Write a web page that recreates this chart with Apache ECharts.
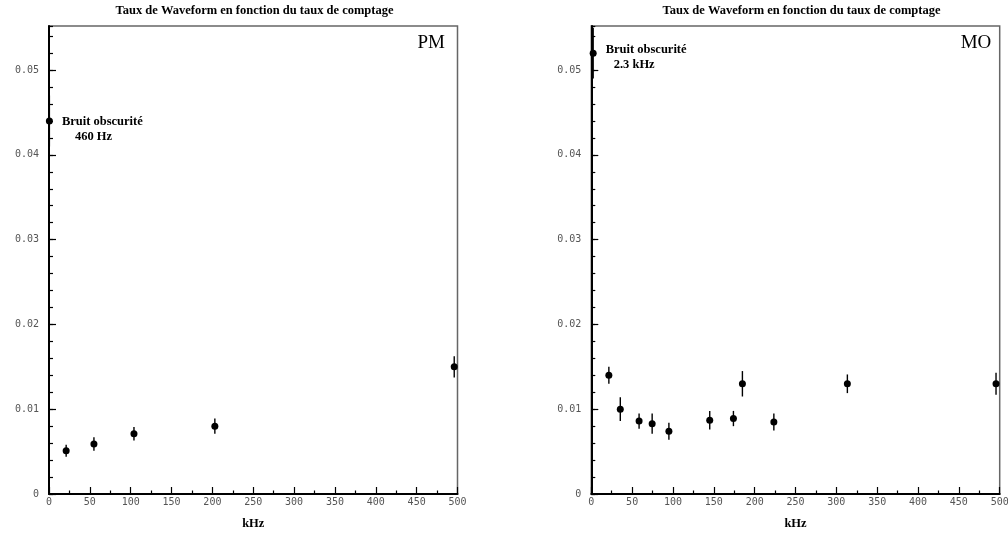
<!DOCTYPE html>
<html><head><meta charset="utf-8">
<script src="https://cdn.jsdelivr.net/npm/echarts@6.0.0/dist/echarts.min.js"></script>
<style>html,body{margin:0;padding:0;background:#fff}#c{width:1008px;height:535px}</style>
</head><body><div id="c"></div>
<script>
// ---- data ----
const titleText = 'Taux de Waveform en fonction du taux de comptage';
const xName = 'kHz';
const panelNames = ['PM', 'MO'];
const xTicks = [0, 50, 100, 150, 200, 250, 300, 350, 400, 450, 500];
const yTicks = [0, 0.01, 0.02, 0.03, 0.04, 0.05];
const yMinorStep = 0.002;
const yMax = 0.0552;

const pmX   = [0.46, 21, 55, 104, 203, 496];
const pmY   = [0.044, 0.0051, 0.0059, 0.0071, 0.0080, 0.0150];
const pmErr = [0.003, 0.0007, 0.0008, 0.0008, 0.0009, 0.00125];
const pmNote = ['Bruit obscurité', '460 Hz'];

const moX   = [2.3, 21.5, 35.5, 58.5, 74.5, 95, 145, 174, 185, 223.5, 313.5, 495.5];
const moY   = [0.052, 0.0140, 0.0100, 0.0086, 0.0083, 0.0074, 0.0087, 0.0089, 0.0130, 0.0085, 0.0130, 0.0130];
const moErr = [0.003, 0.0010, 0.0014, 0.0009, 0.0012, 0.0010, 0.0011, 0.0009, 0.0015, 0.0010, 0.0011, 0.0013];
const moNote = ['Bruit obscurité', '2.3 kHz'];

// ---- chart ----
const chart = echarts.init(document.getElementById('c'), null, {renderer: 'canvas'});
const serif = 'Liberation Serif';
const monoLabel = {fontFamily: 'DejaVu Sans Mono', fontSize: 10, color: '#555'};
const grids = [
  {left: 49, top: 26, width: 408.5, height: 468},
  {left: 591.3, top: 26, width: 408.4, height: 468}
];
const titleX = [254.5, 801.5];
const panelNameX = [445, 991.3];

function xAxisCfg(gi) {
  return {
    type: 'value', gridIndex: gi, position: 'bottom',
    min: xTicks[0], max: xTicks[xTicks.length - 1], interval: xTicks[1] - xTicks[0],
    name: xName, nameLocation: 'middle', nameGap: 23,
    nameTextStyle: {fontFamily: serif, fontWeight: 'bold', fontSize: 12.5, color: '#000'},
    axisLine: {show: true, onZero: false, lineStyle: {color: '#000', width: 2}},
    axisTick: {show: true, inside: true, length: 7, lineStyle: {color: '#000', width: 1.2}},
    minorTick: {show: true, splitNumber: 2, length: 3.5, lineStyle: {color: '#000', width: 1.2}},
    axisLabel: Object.assign({}, monoLabel, {margin: 3, showMinLabel: true, showMaxLabel: true, hideOverlap: false}),
    splitLine: {show: false}, minorSplitLine: {show: false}
  };
}
function yAxesCfg(gi) {
  return [{
    type: 'value', gridIndex: gi, position: 'left', offset: 0,
    min: yTicks[0], max: yMax, interval: yTicks[1] - yTicks[0],
    axisLine: {show: true, onZero: false, lineStyle: {color: '#000', width: 2}},
    axisTick: {show: true, inside: true, length: 7, lineStyle: {color: '#000', width: 1.2}},
    axisLabel: Object.assign({}, monoLabel, {margin: 10, showMaxLabel: false, hideOverlap: false,
      formatter: v => (yTicks.indexOf(v) >= 0 ? String(v) : '')}),
    splitLine: {show: false}
  }, {
    type: 'value', gridIndex: gi, position: 'left', offset: 0,
    min: yTicks[0], max: yMax, interval: yMinorStep,
    axisLine: {show: false, onZero: false},
    axisTick: {show: true, inside: true, length: 4, lineStyle: {color: '#000', width: 1.2}},
    axisLabel: {show: false},
    splitLine: {show: false}
  }];
}

function renderErr(params, api) {
  const x = api.value(0), lo = api.value(1), hi = api.value(2);
  const p1 = api.coord([x, lo]), p2 = api.coord([x, hi]);
  return {type: 'line', shape: {x1: p1[0], y1: p1[1], x2: p2[0], y2: p2[1]},
          style: {stroke: '#000', lineWidth: 1.4}};
}

function noteLabel(note, indent, offY) {
  const st = {fontFamily: serif, fontWeight: 'bold', fontSize: 12.5, color: '#000', lineHeight: 15};
  return {
    show: true, position: 'right', distance: 9, offset: [0, offY],
    formatter: '{a|' + note[0] + '}\n{b|' + note[1] + '}',
    rich: {a: st, b: Object.assign({}, st, {padding: [0, 0, 0, indent]})}
  };
}

function panelSeries(gi, xs, ys, errs, note, indent, offY) {
  const errData = xs.map((x, i) => [x, ys[i] - errs[i], ys[i] + errs[i]]);
  const ptData = xs.map((x, i) => {
    const item = {value: [x, ys[i]]};
    if (i === 0) item.label = noteLabel(note, indent, offY);
    return item;
  });
  return [
    {type: 'custom', xAxisIndex: gi, yAxisIndex: gi * 2, renderItem: renderErr,
     data: errData, encode: {x: 0, y: [1, 2]}, clip: true, silent: true, z: 2},
    {type: 'scatter', xAxisIndex: gi, yAxisIndex: gi * 2, symbol: 'circle', symbolSize: 7,
     itemStyle: {color: '#000', opacity: 1}, data: ptData, silent: true, z: 3}
  ];
}

const graphics = [];
[0, 1].forEach(gi => {
  graphics.push({type: 'text', x: titleX[gi], y: 4, silent: true,
    style: {text: titleText, align: 'center', verticalAlign: 'top', fill: '#000',
            font: 'bold 12.5px "Liberation Serif"'}});
  graphics.push({type: 'text', x: panelNameX[gi], y: 43, silent: true,
    style: {text: panelNames[gi], align: 'right', verticalAlign: 'middle', fill: '#000',
            font: '19px "Liberation Serif"'}});
});

chart.setOption({
  backgroundColor: '#fff',
  animation: false,
  grid: grids.map(g => Object.assign({show: true, borderColor: '#666', borderWidth: 1.5,
    backgroundColor: 'transparent', containLabel: false, outerBoundsMode: 'none'}, g)),
  xAxis: [xAxisCfg(0), xAxisCfg(1)],
  yAxis: yAxesCfg(0).concat(yAxesCfg(1)),
  series: panelSeries(0, pmX, pmY, pmErr, pmNote, 13, 8)
    .concat(panelSeries(1, moX, moY, moErr, moNote, 8, 4)),
  graphic: graphics
});
</script></body></html>
